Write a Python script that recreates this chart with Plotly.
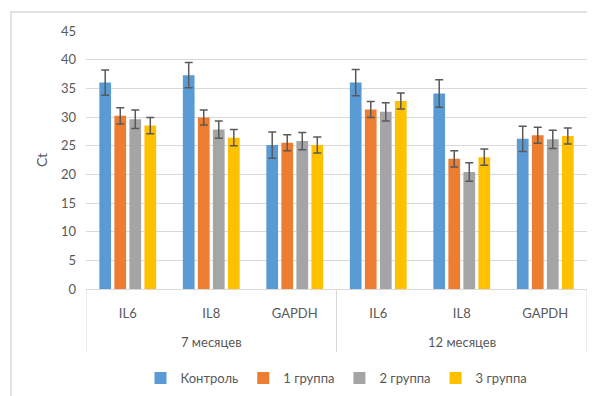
import plotly.graph_objects as go

periods = ["7 месяцев", "12 месяцев"]
genes = ["IL6", "IL8", "GAPDH", "IL6", "IL8", "GAPDH"]
series_names = ["Контроль", "1 группа", "2 группа", "3 группа"]
control = [36.0, 37.3, 25.1, 36.0, 34.1, 26.2]
group1 = [30.2, 29.9, 25.5, 31.3, 22.7, 26.8]
group2 = [29.6, 27.8, 25.8, 30.9, 20.4, 26.1]
group3 = [28.5, 26.4, 25.1, 32.8, 23.0, 26.7]
err_control = [2.2, 2.2, 2.3, 2.3, 2.4, 2.2]
err_group1 = [1.4, 1.3, 1.4, 1.4, 1.4, 1.4]
err_group2 = [1.6, 1.5, 1.5, 1.6, 1.6, 1.6]
err_group3 = [1.4, 1.4, 1.4, 1.4, 1.4, 1.4]
y_ticks = [0, 5, 10, 15, 20, 25, 30, 35, 40, 45]

colors = ["#5B9BD5", "#ED7D31", "#A5A5A5", "#FFC000"]
values = [control, group1, group2, group3]
errs = [err_control, err_group1, err_group2, err_group3]

xpos = list(range(len(genes)))
n_per = len(genes) // len(periods)

FONT = "Lato, Open Sans, sans-serif"
TXT = "#595959"
GRID = "#D9D9D9"

fig = go.Figure()
for name, vals, er, c in zip(series_names, values, errs, colors):
    fig.add_trace(go.Bar(
        x=xpos, y=vals, name=name,
        marker=dict(color=c, line=dict(width=0)),
        error_y=dict(type="data", array=er, color=TXT, thickness=1.5, width=4),
    ))

shapes = [dict(type="rect", xref="paper", yref="paper",
               x0=-0.1497, x1=1.2, y0=-0.6, y1=1.0736,
               line=dict(color=GRID, width=1.5), fillcolor="rgba(0,0,0,0)", layer="above")]
annotations = []
for i, p in enumerate(periods):
    start = i * n_per - 0.5
    end = (i + 1) * n_per - 0.5
    annotations.append(dict(text=p, x=(start + end) / 2, xref="x", y=-0.205, yref="paper",
                            showarrow=False, xanchor="center", yanchor="middle",
                            font=dict(family=FONT, size=13, color=TXT)))
    for xb in ([start, end] if i == 0 else [end]):
        shapes.append(dict(type="line", xref="x", yref="paper", x0=xb, x1=xb, y0=0, y1=-0.244,
                           line=dict(color=GRID, width=1)))

fig.update_layout(
    width=587, height=388,
    margin=dict(l=78, r=8, t=23, b=107, autoexpand=False),
    paper_bgcolor="white", plot_bgcolor="white",
    barmode="group", bargap=0.28, bargroupgap=0.22,
    font=dict(family=FONT, size=13, color=TXT),
    legend=dict(orientation="h", x=0.5, xanchor="center", y=-0.345, yanchor="middle",
                font=dict(size=13, color=TXT), traceorder="normal", itemwidth=30),
    showlegend=True,
    shapes=shapes,
    annotations=annotations,
)
fig.update_yaxes(range=[0, 45], tickvals=y_ticks, showgrid=True, gridcolor=GRID,
                 gridwidth=1, zeroline=False, showline=False, automargin=False,
                 title=dict(text="Ct", font=dict(size=14, color=TXT), standoff=10),
                 tickfont=dict(size=13, color=TXT), ticks="", ticklabelstandoff=9)
fig.update_xaxes(range=[-0.5, len(genes) - 0.5], tickvals=xpos, ticktext=genes,
                 showline=True, linecolor=GRID, linewidth=1, showgrid=False, zeroline=False,
                 automargin=False, tickfont=dict(size=13, color=TXT), ticks="",
                 ticklabelstandoff=12)

fig.write_html("out.html")
